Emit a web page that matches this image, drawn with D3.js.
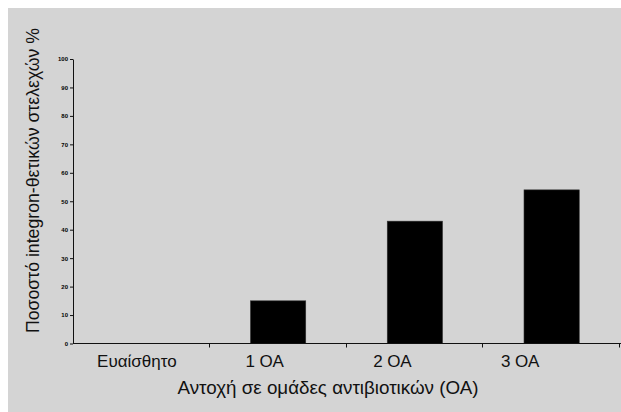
<!DOCTYPE html>
<html>
<head>
<meta charset="utf-8">
<script src="https://cdn.jsdelivr.net/npm/d3@7"></script>
<style>
  body { margin: 0; background: #fff; }
  svg { display: block; }
</style>
</head>
<body>
<svg id="chart"></svg>
<script>
// data
const categories = ["Ευαίσθητο", "1 ΟΑ", "2 ΟΑ", "3 ΟΑ"];
const values = [0, 15, 43, 54];
const yTicks = [0, 10, 20, 30, 40, 50, 60, 70, 80, 90, 100];
const yTitle = "Ποσοστό integron-θετικών στελεχών %";
const xTitle = "Αντοχή σε ομάδες αντιβιοτικών (ΟΑ)";

const width = 621, height = 412;
const margin = {top: 59, right: 1, bottom: 68.5, left: 73};
const plotH = height - margin.top - margin.bottom;

const svg = d3.select("#chart")
    .attr("width", width)
    .attr("height", height);

// grey panel
svg.append("rect")
    .attr("x", 8).attr("y", 8)
    .attr("width", width - 8).attr("height", height - 8)
    .attr("fill", "#d4d4d4");

const y = d3.scaleLinear()
    .domain([0, 100])
    .range([margin.top + plotH, margin.top]);

// bars sit on their own band scale
const xBar = d3.scaleBand()
    .domain(categories)
    .range([margin.left, width - margin.right])
    .paddingInner(0.596)
    .paddingOuter(0.298);

// the category labels are spaced a little tighter than the bars
const xLab = d3.scaleBand()
    .domain(categories)
    .range([margin.left, 584]);

// bars
svg.append("g").selectAll("rect")
    .data(categories)
    .enter()
    .append("rect")
        .attr("x", d => xBar(d))
        .attr("y", (d, i) => y(values[i]))
        .attr("width", xBar.bandwidth())
        .attr("height", (d, i) => y(0) - y(values[i]))
        .attr("fill", "#000")
        .attr("stroke", "#333")
        .attr("stroke-width", 0.6);

// y axis
const yAxis = d3.axisLeft(y)
    .tickValues(yTicks)
    .tickSize(3)
    .tickSizeOuter(0)
    .tickPadding(2);
const yg = svg.append("g")
    .attr("transform", `translate(${margin.left},0)`)
    .call(yAxis);
yg.select(".domain").attr("stroke", "#111");
yg.selectAll(".tick line").attr("stroke", "#111");
yg.selectAll(".tick text")
    .attr("font-family", "Liberation Sans Narrow, Liberation Sans, Arial, sans-serif")
    .attr("font-size", "6px")
    .attr("font-weight", "bold")
    .attr("fill", "#000");

// x axis line + boundary ticks
const xg = svg.append("g");
xg.append("line")
    .attr("x1", margin.left).attr("x2", width)
    .attr("y1", y(0)).attr("y2", y(0))
    .attr("stroke", "#111");
xg.selectAll(".xtick")
    .data(categories)
    .enter()
    .append("line")
        .attr("class", "xtick")
        .attr("x1", d => Math.round(xBar(d) + xBar.bandwidth() / 2 + xBar.step() / 2) - 0.5)
        .attr("x2", d => Math.round(xBar(d) + xBar.bandwidth() / 2 + xBar.step() / 2) - 0.5)
        .attr("y1", y(0)).attr("y2", y(0) + 4)
        .attr("stroke", "#111");

xg.selectAll(".xlab")
    .data(categories)
    .enter()
    .append("text")
        .attr("class", "xlab")
        .attr("x", d => xLab(d) + xLab.bandwidth() / 2)
        .attr("y", 367)
        .attr("text-anchor", "middle")
        .attr("font-family", "Liberation Sans, Arial, sans-serif")
        .attr("font-size", "17px")
        .attr("fill", "#111")
        .text(d => d);

// axis titles
svg.append("text")
    .attr("x", 328)
    .attr("y", 394)
    .attr("text-anchor", "middle")
    .attr("font-family", "Liberation Sans, Arial, sans-serif")
    .attr("font-size", "18px")
    .attr("fill", "#111")
    .attr("textLength", 301)
    .attr("lengthAdjust", "spacingAndGlyphs")
    .text(xTitle);

svg.append("text")
    .attr("transform", "translate(39,180.5) rotate(-90)")
    .attr("text-anchor", "middle")
    .attr("font-family", "Liberation Sans Narrow, Liberation Sans, Arial, sans-serif")
    .attr("font-size", "18px")
    .attr("fill", "#111")
    .attr("textLength", 305)
    .attr("lengthAdjust", "spacingAndGlyphs")
    .text(yTitle);
</script>
</body>
</html>
